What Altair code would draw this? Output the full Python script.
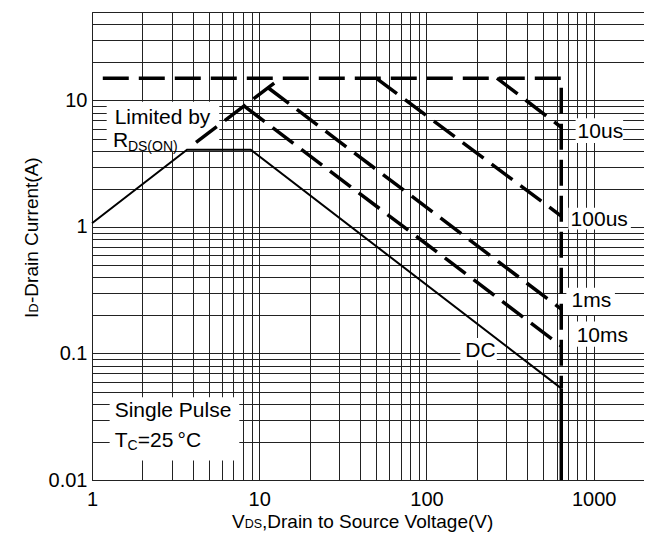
import altair as alt
import pandas as pd

FONT = "Liberation Sans"

# ---------------- axis grid values and tick labels ----------------
x_grid = [1, 2, 3, 4, 5, 6, 7, 8, 9,
          10, 20, 30, 40, 50, 60, 70, 80, 90,
          100, 200, 300, 400, 500, 600, 700, 800, 900, 1000]
x_label_values = [1, 10, 100, 1000]
x_label_texts = ["1", "10", "100", "1000"]

y_grid = [0.01, 0.02, 0.03, 0.04, 0.05, 0.06, 0.07, 0.08, 0.09,
          0.1, 0.2, 0.3, 0.4, 0.5, 0.6, 0.7, 0.8, 0.9,
          1, 2, 3, 4, 5, 6, 7, 8, 9,
          10, 20, 30, 40]
y_label_values = [0.01, 0.1, 1, 10]
y_label_texts = ["0.01", "0.1", "1", "10"]

x_domain = [1, 2000]
y_domain = [0.01, 50]

# ---------------- curves (V, A) ----------------
dc_v = [1.0, 3.7, 8.9, 640]
dc_i = [1.07, 4.07, 4.07, 0.053]

dcv_v = [640, 640]
dcv_i = [0.053, 0.01]

rds_v = [4.19, 13.45]
rds_i = [4.67, 15]

top_v = [1.16, 640, 640]
top_i = [15, 15, 0.053]

us10_v = [264, 640]
us10_i = [15, 6.14]

us100_v = [50, 640]
us100_i = [15, 1.22]

ms1_v = [11.3, 640]
ms1_i = [12.6, 0.224]

ms10_v = [8.1, 640]
ms10_i = [9.05, 0.1145]

# ---------------- annotations ----------------
label_texts = ["Limited by", "R", "DS(ON)", "Single Pulse", "T", "C", "=25\u2009°C",
               "DC", "1ms", "10ms", "10us", "100us"]
label_v = [1.366, 1.334, 1.639, 1.366, 1.366, 1.633, 1.876,
           170.8, 738, 791, 801.6, 728]
label_i = [6.52, 4.26, 3.97, 0.0314, 0.01816, 0.0172, 0.01816,
           0.0941, 0.235, 0.1238, 5.02, 1.015]
label_sizes = [21, 21, 14, 21, 21, 14, 21, 21, 21, 21, 21, 21]

box_v1 = [1.224, 1.275, 159.5, 686.5, 738, 780, 705.5]
box_v2 = [5.77, 7.6, 263.6, 1340, 1646, 1501, 1669]
box_i1 = [4.0, 0.01423, 0.0886, 0.2018, 0.1131, 4.604, 0.955]
box_i2 = [9.75, 0.045, 0.1325, 0.3307, 0.1786, 7.23, 1.421]


def expr(values, texts):
    s = "''"
    for v, t in reversed(list(zip(values, texts))):
        s = f"datum.value == {v} ? '{t}' : ({s})"
    return s


def line_df(name, vs, iss):
    return pd.DataFrame({"x": vs, "y": iss, "s": name, "o": list(range(len(vs)))})


x_axis = alt.Axis(values=x_grid, labelExpr=expr(x_label_values, x_label_texts),
                  title=None, grid=True, gridColor="#222", gridWidth=1, gridOpacity=1,
                  tickSize=0, labelPadding=9, labelFont=FONT, labelFontSize=20,
                  labelColor="black", labelFlush=False, labelOverlap=False,
                  domainColor="#222", labelBound=False)
y_axis = alt.Axis(values=y_grid, labelExpr=expr(y_label_values, y_label_texts),
                  title=None, grid=True, gridColor="#222", gridWidth=1, gridOpacity=1,
                  tickSize=0, labelPadding=5, labelFont=FONT, labelFontSize=20,
                  labelColor="black", labelFlush=False, labelOverlap=False,
                  domainColor="#222", labelBaseline="middle", labelBound=False)

X = alt.X("x:Q", scale=alt.Scale(type="log", domain=x_domain, nice=False), axis=x_axis)
Y = alt.Y("y:Q", scale=alt.Scale(type="log", domain=y_domain, nice=False), axis=y_axis)

boxes = pd.DataFrame({"x": box_v1, "x2": box_v2, "y": box_i1, "y2": box_i2})
box_layer = alt.Chart(boxes).mark_rect(fill="white", strokeWidth=0).encode(
    x=X, x2="x2:Q", y=Y, y2="y2:Q")

dc_layer = alt.Chart(line_df("DC", dc_v, dc_i)).mark_line(
    color="black", strokeWidth=2).encode(x=X, y=Y, order="o:Q")

dashed = pd.concat([
    line_df("top", top_v, top_i),
    line_df("rds", rds_v, rds_i),
    line_df("10us", us10_v, us10_i),
    line_df("100us", us100_v, us100_i),
    line_df("1ms", ms1_v, ms1_i),
    line_df("10ms", ms10_v, ms10_i),
])
dash_layer = alt.Chart(dashed).mark_line(
    color="black", strokeWidth=3.5, strokeDash=[26, 10], strokeCap="butt").encode(
    x=X, y=Y, detail="s:N", order="o:Q")

dcv_layer = alt.Chart(line_df("DCv", dcv_v, dcv_i)).mark_line(
    color="black", strokeWidth=3.5).encode(x=X, y=Y, order="o:Q")

labels = pd.DataFrame({"x": label_v, "y": label_i, "t": label_texts, "fs": label_sizes})
text_layer = alt.Chart(labels).mark_text(
    align="left", baseline="alphabetic", font=FONT, color="black").encode(
    x=X, y=Y, text="t:N", size=alt.Size("fs:Q", scale=None))

one = pd.DataFrame({"a": [0]})


def title_part(text, px, py, fs, angle=0):
    return alt.Chart(one).mark_text(
        text=text, align="left", baseline="alphabetic", font=FONT, fontSize=fs,
        color="black", angle=angle).encode(x=alt.value(px), y=alt.value(py))


title_layers = [
    title_part("V", 140, 516, 19),
    title_part("DS", 152.7, 516, 12.5),
    title_part(",Drain to Source Voltage(V)", 170, 516, 19),
    title_part("I", -54, 306, 19, 270),
    title_part("D", -54, 300.5, 12.5, 270),
    title_part("-Drain Current(A)", -54, 291, 19, 270),
]

chart = alt.layer(box_layer, dc_layer, dash_layer, dcv_layer, text_layer, *title_layers).properties(
    width=552, height=468,
    padding={"left": 84, "top": 4, "right": 0, "bottom": 60},
    autosize=alt.AutoSizeParams(type="none"),
).configure_view(stroke="#222", strokeWidth=1)

chart.save("out.html", embed_options={"renderer": "svg", "actions": False})
